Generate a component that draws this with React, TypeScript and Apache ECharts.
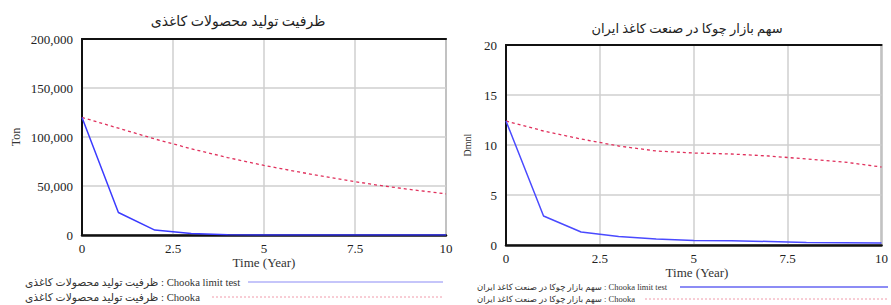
import React, { useEffect, useRef } from "react";
import * as echarts from "echarts";

const years = [0, 1, 2, 3, 4, 5, 6, 7, 8, 9, 10];
const xTicks = ["0", "2.5", "5", "7.5", "10"];

const capacityLimitTest = [120000, 23000, 5000, 1500, 300, 0, 0, 0, 0, 0, 0];
const capacityChooka = [120000, 109000, 98000, 88000, 79000, 71000, 64000, 57500, 51500, 46500, 42000];

const shareLimitTest = [12.4, 2.9, 1.3, 0.85, 0.6, 0.45, 0.42, 0.35, 0.25, 0.22, 0.2];
const shareChooka = [12.4, 11.4, 10.6, 9.9, 9.4, 9.2, 9.1, 8.9, 8.6, 8.3, 7.8];

const leftTitle = "ظرفیت تولید محصولات کاغذی";
const rightTitle = "سهم بازار چوکا در صنعت کاغذ ایران";
const leftUnit = "Ton";
const rightUnit = "Dmnl";
const timeName = "Time (Year)";
const leftLegend = [leftTitle + " : Chooka limit test", leftTitle + " : Chooka"];
const rightLegend = [rightTitle + " : Chooka limit test", rightTitle + " : Chooka"];

const FONT = "'Liberation Serif', 'DejaVu Serif', 'DejaVu Sans', serif";
const AXFONT = "Liberation Serif";
const BLUE = "#3b3bff";
const RED = "#e0305c";

const pairs = (vals: number[]) => years.map((t, i) => [t, vals[i]]);

export default function App() {
  const ref = useRef<HTMLDivElement>(null);
  useEffect(() => {
    if (!ref.current) return;
    const chart = echarts.init(ref.current, undefined, { renderer: "svg" });

    const xBottom = (gridIndex: number) => ({
      type: "value" as const,
      gridIndex,
      min: 0,
      max: 10,
      interval: 2.5,
      axisLine: { show: true, lineStyle: { color: "#111", width: 2.5 } },
      axisTick: { show: false },
      axisLabel: {
        fontFamily: AXFONT,
        fontSize: 13,
        color: "#222",
        margin: 7,
        formatter: (v: number) => xTicks[Math.round(v / 2.5)] ?? "",
      },
      splitLine: { show: true, lineStyle: { color: "#cfcfcf", width: 1.5 } },
    });
    const xTop = (gridIndex: number) => ({
      type: "value" as const,
      gridIndex,
      position: "top" as const,
      min: 0,
      max: 10,
      interval: 2.5,
      axisLine: { show: true, onZero: false, lineStyle: { color: "#111", width: 2 } },
      axisTick: { show: false },
      axisLabel: { show: false },
      splitLine: { show: false },
    });

    const option = {
      animation: false,
      backgroundColor: "#fff",
      textStyle: { fontFamily: AXFONT },
      grid: [
        { left: 82, top: 39, width: 364, height: 196, show: true, borderColor: "#9a9a9a", borderWidth: 2 },
        { left: 506, top: 45, width: 381, height: 200, show: true, borderColor: "#9a9a9a", borderWidth: 2 },
      ],
      xAxis: [xBottom(0), xTop(0), xBottom(1), xTop(1)],
      yAxis: [
        {
          type: "value",
          gridIndex: 0,
          min: 0,
          max: 200000,
          interval: 50000,
          name: leftUnit,
          nameLocation: "middle",
          nameGap: 60,
          nameRotate: 90,
          nameTextStyle: { fontFamily: AXFONT, fontSize: 12, color: "#333" },
          axisLine: { show: true, lineStyle: { color: "#111", width: 2 } },
          axisTick: { show: false },
          axisLabel: {
            fontFamily: AXFONT,
            fontSize: 13,
            color: "#222",
            margin: 9,
            formatter: (v: number) => v.toLocaleString("en-US"),
          },
          splitLine: { show: true, lineStyle: { color: "#cfcfcf", width: 1.5 } },
        },
        {
          type: "value",
          gridIndex: 1,
          min: 0,
          max: 20,
          interval: 5,
          name: rightUnit,
          nameLocation: "middle",
          nameGap: 34,
          nameRotate: 90,
          nameTextStyle: { fontFamily: AXFONT, fontSize: 10, color: "#333" },
          axisLine: { show: true, lineStyle: { color: "#111", width: 2 } },
          axisTick: { show: false },
          axisLabel: { fontFamily: AXFONT, fontSize: 13, color: "#222", margin: 9 },
          splitLine: { show: true, lineStyle: { color: "#cfcfcf", width: 1.5 } },
        },
      ],
      series: [
        {
          type: "line",
          xAxisIndex: 0,
          yAxisIndex: 0,
          data: pairs(capacityLimitTest),
          showSymbol: false,
          z: 5,
          lineStyle: { color: BLUE, width: 1.5 },
        },
        {
          type: "line",
          xAxisIndex: 0,
          yAxisIndex: 0,
          data: pairs(capacityChooka),
          showSymbol: false,
          z: 4,
          lineStyle: { color: RED, width: 1.3, type: [3, 3] },
        },
        {
          type: "line",
          xAxisIndex: 2,
          yAxisIndex: 1,
          data: pairs(shareLimitTest),
          showSymbol: false,
          z: 5,
          lineStyle: { color: "#4a4aff", width: 1.5 },
        },
        {
          type: "line",
          xAxisIndex: 2,
          yAxisIndex: 1,
          data: pairs(shareChooka),
          showSymbol: false,
          z: 4,
          lineStyle: { color: RED, width: 1.3, type: [3, 3] },
        },
      ],
      graphic: [
        {
          type: "text",
          x: 238,
          y: 21,
          style: { text: leftTitle, font: `14px ${FONT}`, fill: "#222", align: "center", verticalAlign: "middle" },
        },
        {
          type: "text",
          x: 687,
          y: 28,
          style: { text: rightTitle, font: `13px ${FONT}`, fill: "#222", align: "center", verticalAlign: "middle" },
        },
        {
          type: "text",
          x: 264,
          y: 262,
          style: { text: timeName, font: `13px ${FONT}`, fill: "#333", align: "center", verticalAlign: "middle" },
        },
        {
          type: "text",
          x: 697,
          y: 272,
          style: { text: timeName, font: `13px ${FONT}`, fill: "#333", align: "center", verticalAlign: "middle" },
        },
        {
          type: "text",
          x: 25,
          y: 282,
          style: { text: leftLegend[0], font: `10.7px ${FONT}`, fill: "#333", align: "left", verticalAlign: "middle" },
        },
        {
          type: "text",
          x: 25,
          y: 297,
          style: { text: leftLegend[1], font: `10.7px ${FONT}`, fill: "#333", align: "left", verticalAlign: "middle" },
        },
        { type: "line", shape: { x1: 248, y1: 282, x2: 443, y2: 282 }, style: { stroke: "#8c8cf5", lineWidth: 1.2 } },
        {
          type: "line",
          shape: { x1: 212, y1: 297, x2: 443, y2: 297 },
          style: { stroke: "#f09aaa", lineWidth: 1, lineDash: [2, 2] },
        },
        {
          type: "text",
          x: 477,
          y: 287,
          style: { text: rightLegend[0], font: `8.5px ${FONT}`, fill: "#333", align: "left", verticalAlign: "middle" },
        },
        {
          type: "text",
          x: 477,
          y: 299,
          style: { text: rightLegend[1], font: `8.5px ${FONT}`, fill: "#333", align: "left", verticalAlign: "middle" },
        },
        { type: "line", shape: { x1: 680, y1: 287, x2: 888, y2: 287 }, style: { stroke: "#8c8cf5", lineWidth: 2 } },
        {
          type: "line",
          shape: { x1: 645, y1: 299, x2: 888, y2: 299 },
          style: { stroke: "#f09aaa", lineWidth: 1, lineDash: [2, 2] },
        },
      ],
    };
    chart.setOption(option as any);
    return () => chart.dispose();
  }, []);

  return (
    <div
      ref={ref}
      style={{ position: "fixed", left: 0, top: 0, width: 891, height: 305, background: "#fff" }}
    />
  );
}
